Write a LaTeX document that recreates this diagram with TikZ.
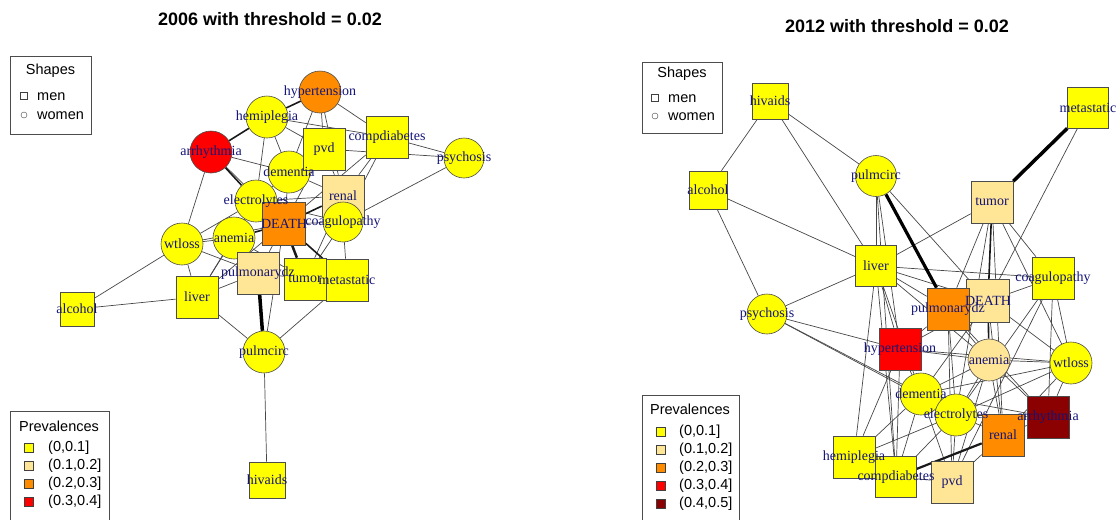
\documentclass[tikz,border=0pt]{standalone}
\usepackage{fontspec}
\setmainfont{Liberation Serif}
\newfontfamily\arialfont{Liberation Sans}
\usetikzlibrary{backgrounds}

\definecolor{prevone}{RGB}{255,255,0}
\definecolor{prevtwo}{RGB}{255,230,150}
\definecolor{prevthree}{RGB}{255,140,0}
\definecolor{prevfour}{RGB}{255,0,0}
\definecolor{prevfive}{RGB}{139,0,0}
\definecolor{labelblue}{RGB}{20,20,120}

\tikzset{
  men/.style={rectangle, draw=black!70, line width=0.6pt, minimum size=42pt, inner sep=0pt},
  women/.style={circle, draw=black!70, line width=0.6pt, minimum size=42pt, inner sep=0pt},
  vlabel/.style={text=labelblue, font=\fontsize{14}{14}\selectfont, inner sep=0pt},
  link/.style={draw=black!72, line width=0.7pt},
  midlink/.style={draw=black!90, line width=1.6pt},
  heavylink/.style={draw=black, line width=3.5pt},
  plottitle/.style={font=\arialfont\bfseries\fontsize{18}{20}\selectfont},
  legtext/.style={font=\arialfont\fontsize{14.5}{15}\selectfont, anchor=west, inner sep=0pt},
  legsq/.style={rectangle, draw=black!75, minimum size=9pt, inner sep=0pt}
}

\begin{document}
\begin{tikzpicture}[x=1pt, y=-1pt]
			%%%%% START %%%%%
			\useasboundingbox (0,0) rectangle (1118,520);
			
			\node[plottitle] (title06) at (270,19) {2006 with threshold = 0.02};
			\node[plottitle] (title12) at (897,26) {2012 with threshold = 0.02};
			
			%%%%% 2006 %%%%%
			\node[women, fill=prevthree] (Lhypertension) at (320,92) {};
			\node[women, fill=prevone] (Lhemiplegia) at (267,117) {};
			\node[women, fill=prevfour] (Larrhythmia) at (211,152) {};
			\node[women, fill=prevone] (Ldementia) at (289,172) {};
			\node[men, fill=prevone] (Lpvd) at (324,149) {};
			\node[men, fill=prevone] (Lcompdiabetes) at (387,137) {};
			\node[women, fill=prevone, minimum size=40pt] (Lpsychosis) at (464,158) {};
			\node[women, fill=prevone] (Lelectrolytes) at (256,201) {};
			\node[men, fill=prevtwo] (Lrenal) at (343,196) {};
			\node[men, fill=prevthree, minimum size=43pt] (LDEATH) at (284,224) {};
			\node[women, fill=prevone, minimum size=40pt] (Lcoagulopathy) at (343,222) {};
			\node[women, fill=prevone] (Lanemia) at (234,238) {};
			\node[women, fill=prevone] (Lwtloss) at (182,244) {};
			\node[men, fill=prevtwo] (Lpulmonarydz) at (258,273) {};
			\node[men, fill=prevone] (Ltumor) at (305,279) {};
			\node[men, fill=prevone] (Lmetastatic) at (347,280) {};
			\node[men, fill=prevone] (Lliver) at (197,297) {};
			\node[men, fill=prevone, minimum size=34pt] (Lalcohol) at (77,309) {};
			\node[women, fill=prevone] (Lpulmcirc) at (264,352) {};
			\node[men, fill=prevone, minimum size=36pt] (Lhivaids) at (267,480) {};
			
			\begin{scope}[on background layer]
			\foreach \a/\b in {hivaids/pulmcirc, pulmcirc/DEATH, pulmcirc/metastatic, pulmcirc/liver,
			  liver/alcohol, alcohol/wtloss, liver/wtloss, liver/anemia, liver/pulmonarydz, liver/DEATH,
			  liver/electrolytes, wtloss/arrhythmia, wtloss/anemia, wtloss/electrolytes, wtloss/DEATH,
			  wtloss/pulmonarydz, arrhythmia/dementia, arrhythmia/DEATH, hemiplegia/compdiabetes,
			  hemiplegia/dementia, hemiplegia/electrolytes, hemiplegia/pvd, hypertension/pvd,
			  hypertension/renal, hypertension/dementia, hypertension/compdiabetes, compdiabetes/psychosis,
			  pvd/psychosis, psychosis/coagulopathy, compdiabetes/renal, compdiabetes/coagulopathy,
			  compdiabetes/DEATH, pvd/renal, pvd/DEATH, pvd/dementia, dementia/electrolytes, dementia/renal,
			  dementia/DEATH, electrolytes/anemia, electrolytes/renal, anemia/pulmonarydz, DEATH/coagulopathy,
			  DEATH/pulmonarydz, renal/coagulopathy, renal/tumor, coagulopathy/metastatic, coagulopathy/tumor,
			  pulmonarydz/tumor, anemia/tumor, electrolytes/coagulopathy}
			  \draw[link] (L\a) -- (L\b);
			\foreach \a/\b in {arrhythmia/hemiplegia, arrhythmia/electrolytes, hemiplegia/hypertension,
			  electrolytes/DEATH, anemia/DEATH, DEATH/renal, DEATH/metastatic}
			  \draw[midlink] (L\a) -- (L\b);
			\draw[midlink, line width=2.5pt] (LDEATH) -- (Ltumor);
			\draw[heavylink] (Lpulmcirc) -- (Lpulmonarydz);
			\end{scope}
			
			\foreach \n in {hypertension, hemiplegia, arrhythmia, dementia, pvd, compdiabetes, psychosis,
			  electrolytes, renal, DEATH, coagulopathy, anemia, wtloss, pulmonarydz, tumor, metastatic,
			  liver, alcohol, pulmcirc, hivaids}
			  \node[vlabel] at (L\n) {\n};
			
			% legends
			\draw[black!70] (10,56) rectangle (91,134);
			\node[legtext, anchor=center] (shapes06) at (50.5,71) {Shapes};
			\node[legsq, minimum size=7pt] (menkey06) at (24,96) {};
			\node[legtext] at (37,97) {men};
			\node[circle, draw=black!75, minimum size=6pt, inner sep=0pt] (womenkey06) at (24,115) {};
			\node[legtext] at (37,116) {women};
			
			\draw[black!70] (10,520) -- (10,411) -- (109,411) -- (109,520);
			\node[legtext, anchor=center] (prev06) at (59,426) {Prevalences};
			\node[legsq, fill=prevone] at (29,448) {};
			\node[legtext] at (48,448) {(0,0.1]};
			\node[legsq, fill=prevtwo] at (29,466) {};
			\node[legtext] at (48,466) {(0.1,0.2]};
			\node[legsq, fill=prevthree] at (29,484) {};
			\node[legtext] at (48,484) {(0.2,0.3]};
			\node[legsq, fill=prevfour] at (29,502) {};
			\node[legtext] at (48,502) {(0.3,0.4]};
			
			%%%%% 2012 %%%%%
			\node[men, fill=prevone, minimum size=36pt] (Rhivaids) at (770,101) {};
			\node[men, fill=prevone, minimum size=41pt] (Rmetastatic) at (1088,108) {};
			\node[women, fill=prevone, minimum size=41pt] (Rpulmcirc) at (876,176) {};
			\node[men, fill=prevone, minimum size=38pt] (Ralcohol) at (708,190) {};
			\node[men, fill=prevtwo] (Rtumor) at (992,202) {};
			\node[men, fill=prevone, minimum size=41pt] (Rliver) at (876,266) {};
			\node[men, fill=prevone] (Rcoagulopathy) at (1053,278) {};
			\node[women, fill=prevone, minimum size=40pt] (Rpsychosis) at (767,314) {};
			\node[men, fill=prevtwo, minimum size=43pt] (RDEATH) at (988,301) {};
			\node[men, fill=prevthree] (Rpulmonarydz) at (948,309) {};
			\node[men, fill=prevfour] (Rhypertension) at (900,349) {};
			\node[women, fill=prevtwo] (Ranemia) at (989,360) {};
			\node[women, fill=prevone] (Rwtloss) at (1071,363) {};
			\node[women, fill=prevone] (Rdementia) at (921,394) {};
			\node[women, fill=prevone] (Relectrolytes) at (956,415) {};
			\node[men, fill=prevfive] (Rarrhythmia) at (1048,417) {};
			\node[men, fill=prevthree] (Rrenal) at (1003,435) {};
			\node[men, fill=prevone] (Rhemiplegia) at (854,457) {};
			\node[men, fill=prevone, minimum size=41pt] (Rcompdiabetes) at (896,477) {};
			\node[men, fill=prevtwo] (Rpvd) at (952,482) {};
			
			\begin{scope}[on background layer]
			\foreach \a/\b in {hivaids/alcohol, hivaids/pulmcirc, hivaids/liver, alcohol/liver,
			  alcohol/psychosis, metastatic/DEATH, pulmcirc/liver, pulmcirc/hypertension, pulmcirc/DEATH,
			  tumor/liver, tumor/pulmonarydz, tumor/renal, tumor/wtloss, tumor/electrolytes,
			  tumor/coagulopathy, liver/coagulopathy, liver/DEATH, liver/pulmonarydz, liver/hypertension,
			  liver/dementia, liver/anemia, liver/compdiabetes, psychosis/liver, psychosis/hypertension,
			  psychosis/dementia, psychosis/electrolytes, coagulopathy/DEATH, coagulopathy/wtloss,
			  coagulopathy/arrhythmia, coagulopathy/pvd, coagulopathy/electrolytes, DEATH/pulmonarydz,
			  DEATH/wtloss, DEATH/renal, DEATH/hypertension, DEATH/dementia, pulmonarydz/hypertension,
			  pulmonarydz/anemia, pulmonarydz/electrolytes, pulmonarydz/pvd, pulmonarydz/arrhythmia,
			  hypertension/anemia, hypertension/dementia, hypertension/hemiplegia, hypertension/compdiabetes,
			  hypertension/wtloss, anemia/wtloss, anemia/dementia, anemia/electrolytes, anemia/renal,
			  anemia/pvd, anemia/arrhythmia, wtloss/electrolytes, wtloss/dementia, wtloss/arrhythmia,
			  wtloss/renal, dementia/electrolytes, dementia/hemiplegia, dementia/compdiabetes,
			  dementia/arrhythmia, dementia/pvd, electrolytes/renal, electrolytes/arrhythmia,
			  electrolytes/pvd, electrolytes/hemiplegia, electrolytes/compdiabetes, renal/arrhythmia,
			  renal/pvd, hemiplegia/compdiabetes, compdiabetes/pvd, liver/hemiplegia, pulmcirc/compdiabetes}
			  \draw[link] (R\a) -- (R\b);
			\foreach \a/\b in {tumor/DEATH, DEATH/anemia}
			  \draw[midlink] (R\a) -- (R\b);
			\draw[midlink, line width=2.2pt] (Rrenal) -- (Rcompdiabetes);
			\draw[heavylink] (Rmetastatic) -- (Rtumor);
			\draw[heavylink, line width=3.2pt] (Rpulmcirc) -- (Rpulmonarydz);
			\end{scope}
			
			\foreach \n in {hivaids, metastatic, pulmcirc, alcohol, tumor, liver, coagulopathy, psychosis,
			  DEATH, pulmonarydz, hypertension, anemia, wtloss, dementia, electrolytes, arrhythmia, renal,
			  hemiplegia, compdiabetes, pvd}
			  \node[vlabel] at (R\n) {\n};
			
			% legends
			\draw[black!70] (642,62) rectangle (722,133);
			\node[legtext, anchor=center] (shapes12) at (682,74) {Shapes};
			\node[legsq, minimum size=7pt] (menkey12) at (655,98) {};
			\node[legtext] at (668,99) {men};
			\node[circle, draw=black!75, minimum size=6pt, inner sep=0pt] (womenkey12) at (655,116) {};
			\node[legtext] at (668,117) {women};
			
			\draw[black!70] (642,520) -- (642,395) -- (739,395) -- (739,520);
			\node[legtext, anchor=center] (prev12) at (690,409) {Prevalences};
			\node[legsq, fill=prevone] at (661,432) {};
			\node[legtext] at (679,432) {(0,0.1]};
			\node[legsq, fill=prevtwo] at (661,450) {};
			\node[legtext] at (679,450) {(0.1,0.2]};
			\node[legsq, fill=prevthree] at (661,468) {};
			\node[legtext] at (679,468) {(0.2,0.3]};
			\node[legsq, fill=prevfour] at (661,486) {};
			\node[legtext] at (679,486) {(0.3,0.4]};
			\node[legsq, fill=prevfive] at (661,504) {};
			\node[legtext] at (679,504) {(0.4,0.5]};
			
			%%%%% END %%%%%
\end{tikzpicture}
\end{document}
